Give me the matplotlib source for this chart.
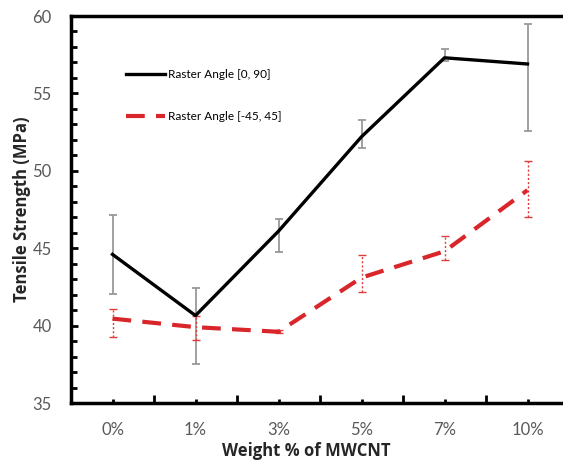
import numpy as np
import matplotlib.pyplot as plt
from matplotlib.ticker import MultipleLocator

# tensile strength vs MWCNT loading, two raster angles
loadings = ['0%', '1%', '3%', '5%', '7%', '10%']
strength_0_90 = [44.6, 40.65, 46.1, 52.2, 57.3, 56.9]
low_0_90 = [42.05, 37.55, 44.75, 51.5, 57.1, 52.6]
high_0_90 = [47.15, 42.45, 46.9, 53.3, 57.9, 59.5]
strength_45 = [40.45, 39.9, 39.6, 43.1, 44.8, 48.75]
low_45 = [39.25, 39.1, 39.5, 42.15, 44.25, 47.0]
high_45 = [41.05, 40.6, 39.7, 44.55, 45.8, 50.65]

plt.rcParams['font.family'] = ['Lato', 'DejaVu Sans']

fig = plt.figure(figsize=(5.63, 4.65), dpi=100)
# axes run past the right edge of the figure, so no right spine shows
ax = fig.add_axes([71 / 563, 62 / 465, 498 / 563, 387 / 465])

x = np.arange(len(loadings))


def bounds(vals, lo, hi):
    vals, lo, hi = np.array(vals), np.array(lo), np.array(hi)
    return [vals - lo, hi - vals]


ax.errorbar(x, strength_0_90, yerr=bounds(strength_0_90, low_0_90, high_0_90),
            fmt='none', ecolor='#999999', elinewidth=1.3, capsize=3,
            capthick=1.3, zorder=2)
ax.plot(x, strength_0_90, color='black', lw=2.4, zorder=3,
        label='Raster Angle [0, 90]')

eb = ax.errorbar(x, strength_45, yerr=bounds(strength_45, low_45, high_45),
                 fmt='none', ecolor='#e03c3c', elinewidth=1.0, capsize=3,
                 capthick=1.0, zorder=2)
eb[2][0].set_linestyle((0, (1.5, 1.5)))
ax.plot(x, strength_45, color='#d9262b', lw=3, dashes=(4.5, 2.7), zorder=3,
        label='Raster Angle [-45, 45]')

ax.set_xlim(-0.5, 5.5)
ax.set_ylim(35, 60)
ax.set_xticks(x)
ax.set_xticklabels(loadings)
ax.set_xticks(x[:-1] + 0.5, minor=True)
ax.yaxis.set_major_locator(MultipleLocator(5))
ax.yaxis.set_minor_locator(MultipleLocator(1))

ax.tick_params(axis='both', which='both', direction='in', colors='black',
               labelcolor='#595959', labelsize=12, width=2)
ax.tick_params(axis='y', which='major', length=5, pad=14)
ax.tick_params(axis='y', which='minor', length=4)
ax.tick_params(axis='x', which='major', length=3, pad=14)
ax.tick_params(axis='x', which='minor', length=6)

for side in ['left', 'bottom', 'top', 'right']:
    ax.spines[side].set_linewidth(2.5)

label_font = dict(family=['Open Sans', 'DejaVu Sans'], fontsize=12,
                  fontweight='bold', color='#262626')
ax.set_xlabel('Weight % of MWCNT', **label_font)
ax.xaxis.set_label_coords(0.472, -0.1)
ax.set_ylabel('Tensile Strength (MPa)', **label_font)
ax.yaxis.set_label_coords(-0.08, 0.5)

leg = ax.legend(loc='upper left', bbox_to_anchor=(0.09, 0.89), frameon=False,
                fontsize=8.5, handlelength=3.3, handletextpad=0.2,
                labelspacing=2.6)

fig.savefig('out.png', dpi=100)
